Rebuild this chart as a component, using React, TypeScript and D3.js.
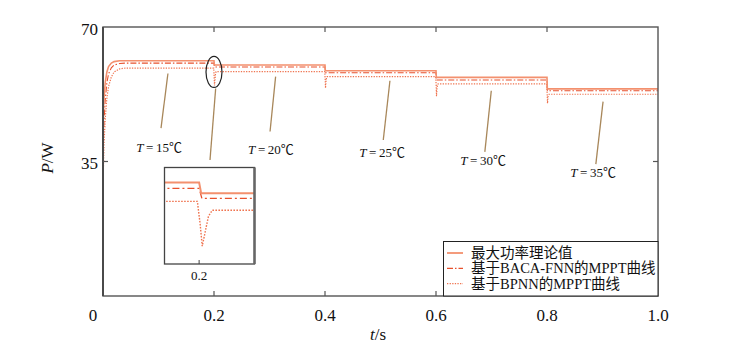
import React, { useEffect, useRef } from 'react';
import * as d3 from 'd3';

// theoretical max power (W) vs time (s)
const theoryT = [0, 0.002, 0.004, 0.007, 0.01, 0.015, 0.02, 0.03, 0.2, 0.2006, 0.4, 0.4006, 0.6, 0.6006, 0.8, 0.8006, 1.0];
const theoryP = [46, 52, 55.5, 58.3, 59.7, 60.6, 61.0, 61.2, 61.2, 60.1, 60.1, 58.6, 58.6, 56.9, 56.9, 53.9, 53.9];

// BACA-FNN MPPT
const bacaT = [0, 0.002, 0.004, 0.007, 0.01, 0.015, 0.02, 0.03, 0.04, 0.2, 0.2008, 0.4, 0.4008, 0.6, 0.6008, 0.8, 0.8008, 1.0];
const bacaP = [38, 46, 51, 55.5, 57.8, 59.4, 60.1, 60.5, 60.6, 60.6, 59.6, 59.6, 58.1, 58.1, 56.2, 56.2, 53.4, 53.4];

// BPNN MPPT (with dips at each temperature step)
const bpnnT = [
  0, 0.002, 0.004, 0.007, 0.01, 0.015, 0.02, 0.03, 0.04,
  0.1995, 0.2003, 0.2009, 0.2018, 0.2027, 0.2038,
  0.3995, 0.4003, 0.4009, 0.4018, 0.4027, 0.4038,
  0.5995, 0.6003, 0.6009, 0.6018, 0.6027, 0.6038,
  0.7995, 0.8003, 0.8009, 0.8018, 0.8027, 0.8038,
  1.0,
];
const bpnnP = [
  29, 40, 46, 51.5, 54.5, 57, 58.3, 59.1, 59.3,
  59.3, 57, 54.8, 56.3, 57.8, 58.4,
  58.4, 56.5, 54.1, 55.9, 56.7, 57.1,
  57.1, 54.8, 52.0, 54.0, 54.9, 55.2,
  55.2, 52.8, 50.1, 51.9, 52.2, 52.5,
  52.5,
];

const xTicks = [0.2, 0.4, 0.6, 0.8, 1.0];
const xTickLabels = ['0.2', '0.4', '0.6', '0.8', '1.0'];
const yTicks = [35, 70];

const legendNames = ['最大功率理论值', '基于BACA-FNN的MPPT曲线', '基于BPNN的MPPT曲线'];

// temperature annotations: [t, P] of leader start, leader end, text centre
const tempLabels = ['15', '20', '25', '30', '35'];
const tempFrom = [[0.117, 57.9], [0.311, 57.1], [0.517, 56.0], [0.6996, 53.4], [0.901, 50.6]];
const tempTo = [[0.1045, 43.7], [0.301, 42.8], [0.505, 40.6], [0.688, 37.5], [0.888, 34.3]];
const tempText = [[0.101, 38.8], [0.3027, 38.2], [0.503, 37.5], [0.685, 35.4], [0.883, 32.3]];

const serif = "'Liberation Serif', 'Noto Sans CJK SC', serif";

export default function App() {
  const ref = useRef<SVGSVGElement>(null);

  useEffect(() => {
    const width = 743;
    const height = 354;
    const svg = d3.select(ref.current).attr('viewBox', [0, 0, width, height]);
    svg.selectAll('*').remove();

    const x = d3.scaleLinear().domain([0, 1]).range([103, 658]);
    const y = d3.scaleLinear().domain([0, 70]).range([296, 27]);

    const series = [
      { t: bpnnT, p: bpnnP, color: '#ef7450', width: 1.2, dash: '1.3,1.3' },
      { t: bacaT, p: bacaP, color: '#e8502c', width: 1.1, dash: '6,2,1.5,2' },
      { t: theoryT, p: theoryP, color: '#f3906e', width: 1.6, dash: null },
    ];

    const plot = svg.append('g');
    series.forEach((s) => {
      const pts: [number, number][] = s.t.map((t, i) => [t, s.p[i]]);
      plot
        .append('path')
        .attr('d', d3.line<[number, number]>().x((d) => x(d[0])).y((d) => y(d[1]))(pts))
        .attr('fill', 'none')
        .attr('stroke', s.color)
        .attr('stroke-width', s.width)
        .attr('stroke-dasharray', s.dash);
    });

    // frame
    const g = svg.append('g');
    g.append('rect')
      .attr('x', x(0))
      .attr('y', y(70))
      .attr('width', x(1) - x(0))
      .attr('height', y(0) - y(70))
      .attr('fill', 'none')
      .attr('stroke', '#555')
      .attr('stroke-width', 1.4);
    g.append('line')
      .attr('x1', x(0)).attr('x2', x(0))
      .attr('y1', y(70)).attr('y2', y(0))
      .attr('stroke', '#4a4a4a')
      .attr('stroke-width', 2);

    // ticks
    xTicks.slice(0, -1).forEach((t) => {
      g.append('line').attr('x1', x(t)).attr('x2', x(t)).attr('y1', y(0)).attr('y2', y(0) - 5).attr('stroke', '#555').attr('stroke-width', 1.2);
      g.append('line').attr('x1', x(t)).attr('x2', x(t)).attr('y1', y(70)).attr('y2', y(70) + 5).attr('stroke', '#555').attr('stroke-width', 1.2);
    });
    g.append('line').attr('x1', x(0)).attr('x2', x(0) + 5).attr('y1', y(35)).attr('y2', y(35)).attr('stroke', '#555').attr('stroke-width', 1.2);
    g.append('line').attr('x1', x(1)).attr('x2', x(1) - 5).attr('y1', y(35)).attr('y2', y(35)).attr('stroke', '#555').attr('stroke-width', 1.2);

    // text helper
    const txt = (sel: any, px: number, py: number, size: number, anchor = 'middle') =>
      sel
        .append('text')
        .attr('x', px)
        .attr('y', py)
        .attr('text-anchor', anchor)
        .attr('dominant-baseline', 'central')
        .attr('font-family', serif)
        .attr('font-size', size)
        .attr('fill', '#111');

    // tick labels
    const lbl = svg.append('g');
    xTicks.forEach((t, i) => txt(lbl, x(t), 315, 17).text(xTickLabels[i]));
    txt(lbl, x(0) - 10, 315, 17).text('0');
    yTicks.forEach((v) => txt(lbl, 98, y(v) + 2, 17, 'end').text(String(v)));

    // axis titles
    const xt = txt(lbl, 378, 334, 17);
    xt.append('tspan').attr('font-style', 'italic').text('t');
    xt.append('tspan').text('/s');
    const yt = txt(lbl, 0, 0, 17).attr('transform', 'translate(47,158) rotate(-90)');
    yt.append('tspan').attr('font-style', 'italic').text('P');
    yt.append('tspan').text('/W');

    // temperature annotations
    const ann = svg.append('g');
    tempLabels.forEach((lab, i) => {
      ann.append('line')
        .attr('x1', x(tempFrom[i][0])).attr('y1', y(tempFrom[i][1]))
        .attr('x2', x(tempTo[i][0])).attr('y2', y(tempTo[i][1]))
        .attr('stroke', '#a8875a')
        .attr('stroke-width', 1.3);
      const tx = txt(ann, x(tempText[i][0]), y(tempText[i][1]), 13);
      tx.append('tspan').attr('font-style', 'italic').text('T');
      tx.append('tspan').text('\u2009=\u2009' + lab + '℃');
    });

    // zoom ellipse and leader
    ann.append('ellipse')
      .attr('cx', x(0.2)).attr('cy', y(58.3))
      .attr('rx', 8).attr('ry', 15.5)
      .attr('fill', 'none')
      .attr('stroke', '#222')
      .attr('stroke-width', 1.2);
    ann.append('line')
      .attr('x1', x(0.203)).attr('y1', y(54.0))
      .attr('x2', x(0.1928)).attr('y2', y(35.4))
      .attr('stroke', '#a8875a')
      .attr('stroke-width', 1.3);

    // inset
    const ix = d3.scaleLinear().domain([0.19, 0.216]).range([164.5, 254.5]);
    const iy = d3.scaleLinear().domain([53, 62.7]).range([264, 167.5]);
    const inset = svg.append('g');
    svg.append('clipPath').attr('id', 'inset-clip')
      .append('rect').attr('x', 164.5).attr('y', 167.5).attr('width', 90).attr('height', 96.5);
    inset.append('rect').attr('x', 164.5).attr('y', 167.5).attr('width', 90).attr('height', 96.5).attr('fill', '#fff');
    const insetPlot = inset.append('g').attr('clip-path', 'url(#inset-clip)');
    const insetStyle = [
      { dash: '1.6,1.4', width: 1.4 },
      { dash: '7,3,2,3', width: 1.3 },
      { dash: null, width: 2 },
    ];
    series.forEach((s, k) => {
      const pts: [number, number][] = s.t.map((t, i) => [t, s.p[i]]);
      insetPlot
        .append('path')
        .attr('d', d3.line<[number, number]>().x((d) => ix(d[0])).y((d) => iy(d[1]))(pts))
        .attr('fill', 'none')
        .attr('stroke', s.color)
        .attr('stroke-width', insetStyle[k].width)
        .attr('stroke-dasharray', insetStyle[k].dash);
    });
    inset.append('rect').attr('x', 164.5).attr('y', 167.5).attr('width', 90).attr('height', 96.5)
      .attr('fill', 'none').attr('stroke', '#444').attr('stroke-width', 1.3);
    inset.append('line').attr('x1', 254.5).attr('x2', 254.5).attr('y1', 167.5).attr('y2', 264)
      .attr('stroke', '#666').attr('stroke-width', 2.5);
    inset.append('line').attr('x1', ix(0.2)).attr('x2', ix(0.2)).attr('y1', 264).attr('y2', 260).attr('stroke', '#444');
    txt(inset, ix(0.2), 275, 13).text('0.2');

    // legend
    const leg = svg.append('g');
    leg.append('rect').attr('x', 443.5).attr('y', 241.5).attr('width', x(1) - 443.5).attr('height', y(0) - 241.5)
      .attr('fill', '#fff').attr('stroke', '#222').attr('stroke-width', 1);
    const legOrder = [2, 1, 0];
    legendNames.forEach((name, i) => {
      const s = series[legOrder[i]];
      const ly = 253 + i * 15.3;
      leg.append('line').attr('x1', 447).attr('x2', 463).attr('y1', ly).attr('y2', ly)
        .attr('stroke', s.color).attr('stroke-width', s.width + 0.2).attr('stroke-dasharray', s.dash);
      txt(leg, 471, ly, 14.5, 'start').text(name);
    });
  }, []);

  return (
    <svg
      ref={ref}
      width={743}
      height={354}
      style={{ position: 'absolute', left: 0, top: 0, background: '#fff' }}
    />
  );
}
